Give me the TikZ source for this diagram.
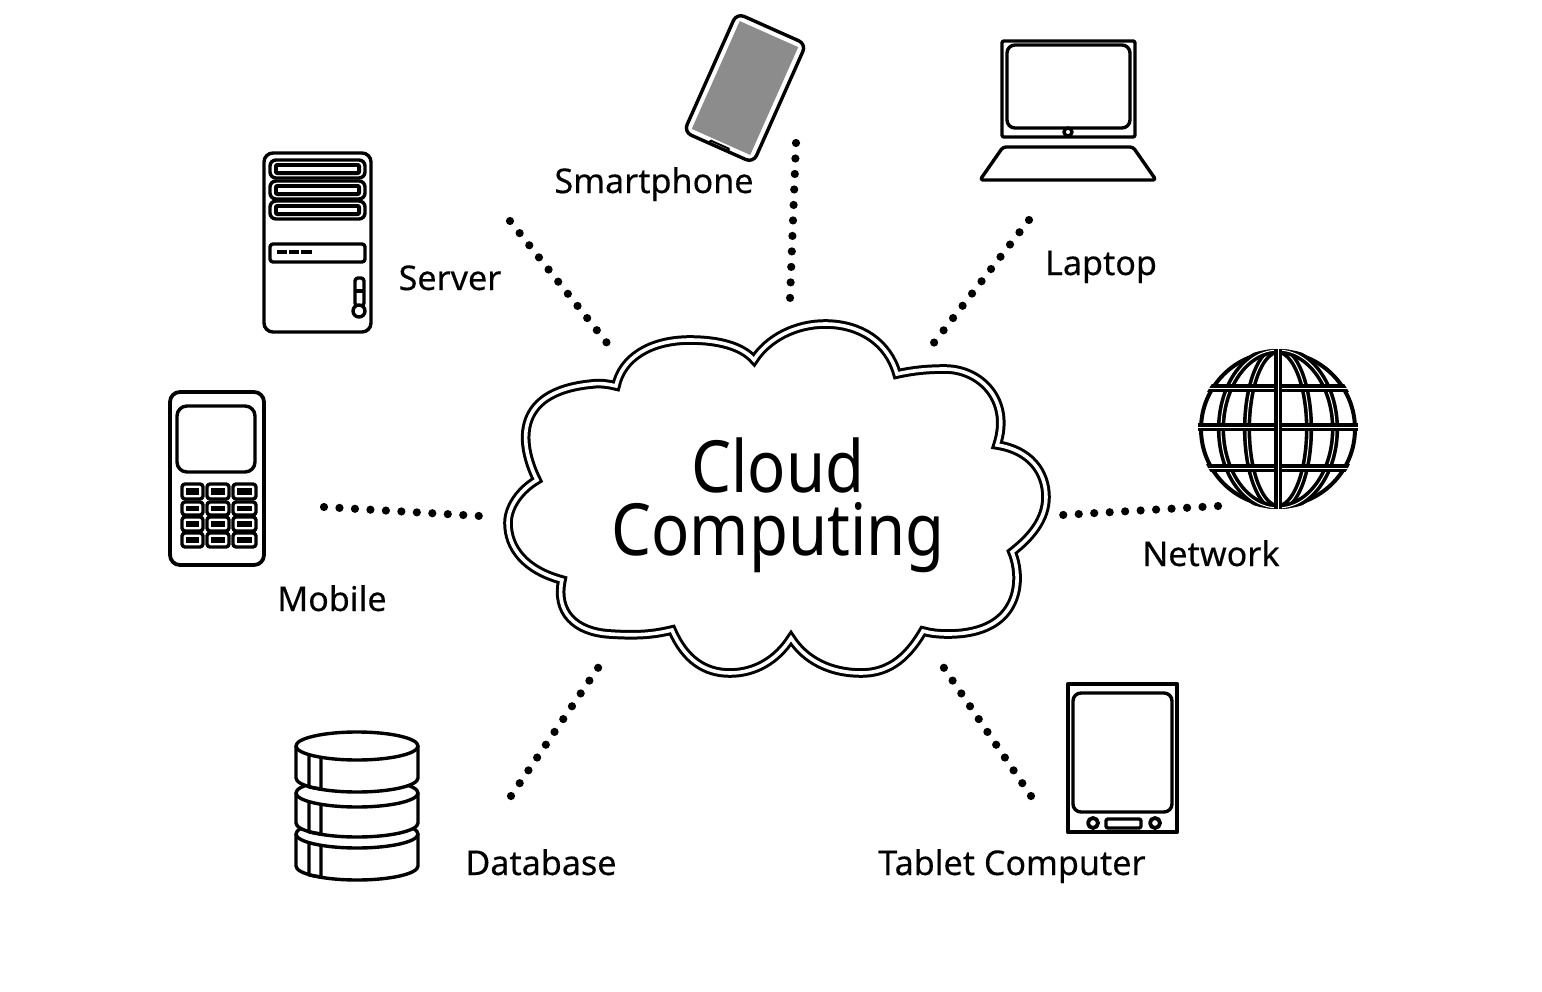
\documentclass[tikz,border=0pt]{standalone}
\usepackage{fontspec}
\setmainfont{Noto Sans}[FakeStretch=0.88]
\newfontfamily\labelfont{Noto Sans}[FakeBold=0.3]
\tikzset{
  iconline/.style={line width=0.34mm, draw=black, line join=round},
  cloudline/.style={line width=0.3mm, double=white, double distance=0.36mm, line join=miter, miter limit=20},
  dotline/.style={line width=0.82mm, line cap=round, dash pattern=on 0pt off 1.55mm},
  gridline/.style={line width=0.36mm, double=white, double distance=0.1mm},
  devicelabel/.style={anchor=base, inner sep=0pt, font=\labelfont\fontsize{9.7}{12}\selectfont},
}
\begin{document}
\begin{tikzpicture}[x=0.1mm, y=-0.1mm]
    \useasboundingbox (0,0) rectangle (1542,992);
    \draw[cloudline] (616,386)
        .. controls (622,358) and (650,340) .. (690,340)
        .. controls (718,340) and (742,346) .. (754,360)
        .. controls (768,338) and (796,324) .. (825,324)
        .. controls (860,324) and (888,342) .. (897,374)
        .. controls (915,370) and (930,369) .. (945,369)
        .. controls (980,369) and (1012,400) .. (997,445)
        .. controls (1030,450) and (1046,472) .. (1046,497)
        .. controls (1046,520) and (1030,538) .. (1012,552)
        .. controls (1023,578) and (1022,634) .. (948,634)
        .. controls (938,634) and (930,633) .. (923,631)
        .. controls (905,662) and (885,673) .. (861,673)
        .. controls (830,673) and (805,660) .. (791,638)
        .. controls (777,660) and (755,673) .. (730,673)
        .. controls (705,673) and (685,660) .. (672,630)
        .. controls (655,634) and (640,636) .. (610,634)
        .. controls (575,632) and (555,612) .. (562,580)
        .. controls (525,570) and (508,548) .. (508,523)
        .. controls (508,507) and (520,490) .. (537,480)
        .. controls (522,450) and (508,392) .. (592,384)
        .. controls (600,383) and (608,384) .. cycle;
    \node[align=center, inner sep=0pt, font=\fontsize{20.5}{17.9}\selectfont] (cloud) at (778,505) {Cloud\\Computing};

    \coordinate (server-a) at (510,221);
    \coordinate (server-b) at (607,343);
    \coordinate (phone-a) at (796,143);
    \coordinate (phone-b) at (790,299);
    \coordinate (laptop-a) at (1029,220);
    \coordinate (laptop-b) at (933,344);
    \coordinate (network-a) at (1218,506);
    \coordinate (network-b) at (1062,515);
    \coordinate (tablet-a) at (1031,796);
    \coordinate (tablet-b) at (942,665);
    \coordinate (database-a) at (511,796);
    \coordinate (database-b) at (600,665);
    \coordinate (mobile-a) at (324,507);
    \coordinate (mobile-b) at (480,516);
    \foreach \a in {server,phone,laptop,network,tablet,database,mobile}
        \draw[dotline] (\a-a) -- (\a-b);

    \node[devicelabel] (smartphone) at (654,193) {Smartphone};
    \node[devicelabel] (server) at (450,290) {Server};
    \node[devicelabel] (laptop) at (1101,275) {Laptop};
    \node[devicelabel] (network) at (1211,566) {Network};
    \node[devicelabel] (mobile) at (332,611) {Mobile};
    \node[devicelabel] (database) at (541,875) {Database};
    \node[devicelabel] (tablet) at (1012,875) {Tablet Computer};

    \draw[iconline, rounded corners=0.9mm] (264,153) rectangle (371,332);
    \foreach \y in {160,181,201} {
        \draw[iconline, rounded corners=0.6mm] (270,\y) rectangle (365,\y+18);
        \fill[rounded corners=0.3mm] (274,\y+3) rectangle (361,\y+15);
        \fill[white] (278,\y+7) rectangle (357,\y+11);
    }
    \draw[iconline, rounded corners=0.3mm] (270,244) rectangle (365,262);
    \fill (277,250) rectangle (287,254);
    \fill (289,250) rectangle (299,254);
    \fill (301,250) rectangle (312,254);
    \draw[iconline, rounded corners=0.3mm] (355,278) rectangle (364,306);
    \draw[iconline] (355,291) -- (364,291);
    \draw[iconline, fill=white] (359,311) circle[radius=6];

    \draw[iconline, line width=0.38mm, rounded corners=1mm] (170,392) rectangle (264,565);
    \draw[iconline, rounded corners=1mm] (177,406) rectangle (255,472);
    \foreach \x/\w in {182/21,207/22,233/23} {
        \foreach \y/\h in {484/15,502/13,517/14,533/14} {
            \draw[iconline, rounded corners=0.3mm] (\x,\y) rectangle (\x+\w,\y+\h);
            \fill (\x+4,\y+4) rectangle (\x+\w-4,\y+\h-4);
        }
    }

    \begin{scope}[shift={(745,88)}, rotate=-24]
        \fill[black!45] (-32,-59) rectangle (32,59);
        \draw[iconline, rounded corners=0.8mm] (-38,-65) rectangle (38,65);
        \draw[iconline, line width=0.2mm] (-10,65) -- (-10,62) -- (10,62) -- (10,65);
    \end{scope}

    \draw[iconline, rounded corners=0.2mm] (1002,41) rectangle (1135,137);
    \draw[iconline, rounded corners=0.8mm] (1007,45) rectangle (1130,128);
    \draw[iconline, fill=white] (1068,132) circle[radius=4];
    \draw[iconline, rounded corners=0.3mm] (1003,147) -- (1133,147) -- (1156,180) -- (980,180) -- cycle;

    \draw[iconline, line width=0.4mm] (1278,429) circle[radius=77];
    \begin{scope}
        \clip (1278,429) circle[radius=80];
        \foreach \k in {31,57}
            \draw[gridline] (1278,429) ellipse[x radius=\k, y radius=79];
        \foreach \y in {388,427,468}
            \draw[gridline] (1195,\y) -- (1360,\y);
        \draw[gridline] (1278,345) -- (1278,510);
    \end{scope}

    \foreach \c/\h in {834/32,793/30,746/32} {
        \fill[white] (296,\c) -- (296,\c+\h) arc[start angle=180, end angle=360, x radius=61, y radius=-14]
            -- (418,\c) arc[start angle=0, end angle=180, x radius=61, y radius=-14] -- cycle;
        \draw[iconline] (357,\c) ellipse[x radius=61, y radius=14];
        \draw[iconline] (296,\c) -- (296,\c+\h) arc[start angle=180, end angle=360, x radius=61, y radius=-14] -- (418,\c);
        \draw[iconline] (309,\c+9) -- (309,\c+\h+9) -- (321,\c+\h+11) -- (321,\c+11);
    }

    \draw[iconline, line width=0.45mm] (1068,684) rectangle (1177,832);
    \draw[iconline, rounded corners=0.8mm] (1073,693) rectangle (1172,812);
    \draw[iconline, line width=0.38mm] (1093,823) circle[radius=5];
    \draw[iconline, rounded corners=0.2mm] (1106,819) rectangle (1141,828);
    \draw[iconline, line width=0.38mm] (1155,823) circle[radius=5];
\end{tikzpicture}
\end{document}
